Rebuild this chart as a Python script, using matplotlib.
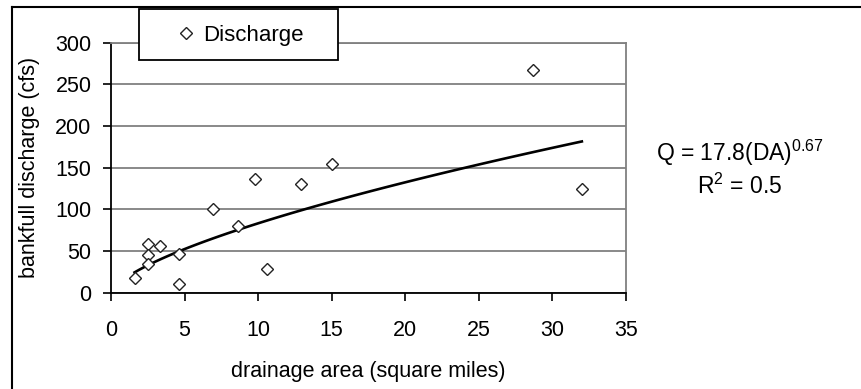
import numpy as np
import matplotlib
matplotlib.use("Agg")
from matplotlib import pyplot as plt
from matplotlib.patches import Rectangle
from matplotlib.lines import Line2D

# drainage area (sq mi) and bankfull discharge (cfs)
area = [1.6, 2.5, 2.5, 2.5, 3.3, 4.6, 4.6, 6.9, 8.6, 9.8, 10.6, 12.9, 15.0, 28.7, 32.0]
discharge = [18, 58, 45, 34, 56, 46, 11, 101, 80, 136, 28, 130, 155, 267, 125]

coef = 17.8
expo = 0.67
r2 = 0.5

plt.rcParams['font.family'] = ['Liberation Sans', 'DejaVu Sans']
plt.rcParams['mathtext.fontset'] = 'custom'
plt.rcParams['mathtext.rm'] = 'Liberation Sans'
plt.rcParams['mathtext.it'] = 'Liberation Sans'

W, H = 861, 389
fig = plt.figure(figsize=(W / 100, H / 100), dpi=100)
ax = fig.add_axes([111 / W, 1 - 292.7 / H, 515 / W, 250 / H])

x_fit = np.linspace(min(area), max(area), 100)
ax.plot(x_fit, coef * x_fit ** expo, '-', color='black', lw=1.9, zorder=2)
pts, = ax.plot(area, discharge, 'D', ms=5.8, mfc='white', mec='#222222', mew=1.0,
               label='Discharge', zorder=3)

ax.set_xlim(0, 35)
ax.set_ylim(0, 300)
ax.set_xticks(range(0, 36, 5))
ax.set_yticks(range(0, 301, 50))
ax.yaxis.grid(True, color='#808080', lw=1.3)
ax.set_axisbelow(True)
ax.tick_params(labelsize=15.5, length=6, width=1.2, direction='out', color='black')
ax.tick_params(axis='x', pad=14)
ax.tick_params(axis='y', pad=8)
for s in ['top', 'right']:
    ax.spines[s].set_color('#808080')
    ax.spines[s].set_linewidth(1.3)
for s in ['left', 'bottom']:
    ax.spines[s].set_color('black')
    ax.spines[s].set_linewidth(1.3)

ax.set_xlabel('drainage area (square miles)', fontsize=15.5, labelpad=14)
ax.set_ylabel('bankfull discharge (cfs)', fontsize=15.5, labelpad=11)

# legend box drawn as a separate frame
fig.patches.append(Rectangle((139 / W, 1 - 60 / H), 199 / W, 51 / H,
                             transform=fig.transFigure, facecolor='white',
                             edgecolor='black', lw=1.3, zorder=4))
fig.legend(handles=[pts], loc='center', bbox_to_anchor=(242 / W, 1 - 35 / H),
           fontsize=16, frameon=False, handlelength=0.5, handletextpad=0.5,
           borderpad=0, borderaxespad=0)

fig.text(740 / W, 1 - 161 / H, r'Q = 17.8(DA)$^{0.67}$', ha='center', va='baseline',
         fontsize=16.5)
fig.text(740 / W, 1 - 194 / H, r'R$^{2}$ = 0.5', ha='center', va='baseline',
         fontsize=16.5)

# outer chart border (cropped on right and bottom)
fig.lines.append(Line2D([12 / W, 12 / W], [0, 1 - 7 / H], transform=fig.transFigure,
                        color='black', lw=1.5))
fig.lines.append(Line2D([12 / W, 1], [1 - 7 / H, 1 - 7 / H], transform=fig.transFigure,
                        color='black', lw=1.5))

fig.savefig('out.png', dpi=100)
